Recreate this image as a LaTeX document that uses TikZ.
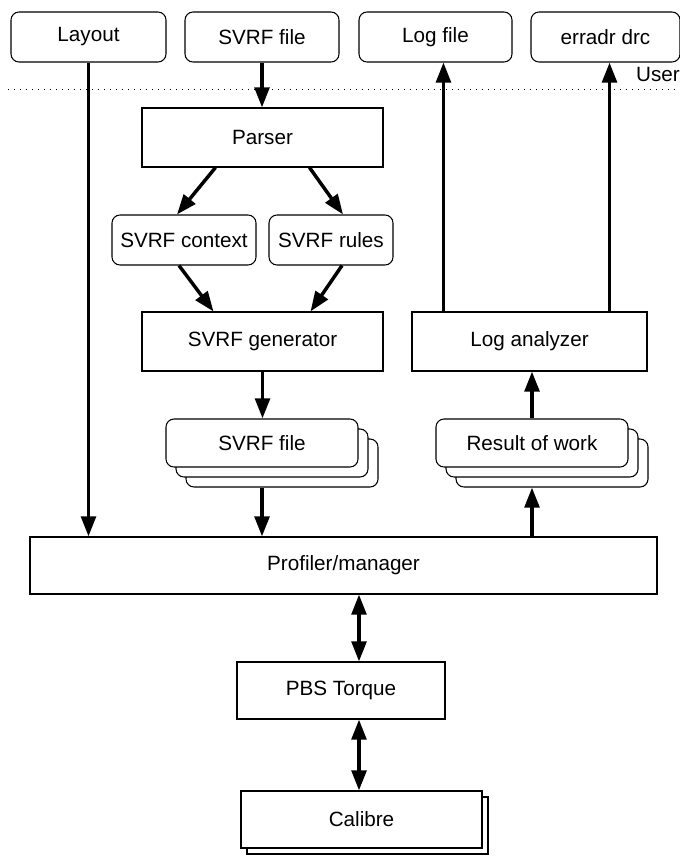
\documentclass[tikz,border=0pt]{standalone}
\usepackage{fontspec}
\setmainfont{Liberation Sans}
\usetikzlibrary{positioning,calc,arrows.meta}

\tikzset{
  box/.style={draw, line width=0.8pt, fill=white, inner sep=0pt,
    font=\fontsize{15.5}{18}\selectfont},
  rbox/.style={box, rounded corners=6pt},
  sheet/.style={rbox, minimum width=144pt, minimum height=36pt},
  flow/.style={line width=2.6pt, -{Triangle[length=15pt,width=11pt]}},
  bothflow/.style={line width=2.6pt,
    {Triangle[length=15pt,width=11pt]}-{Triangle[length=15pt,width=11pt]}},
}

\begin{document}
\begin{tikzpicture}[x=0.75pt,y=-0.75pt]
  \useasboundingbox (0,0) rectangle (680,856);

  % user level
  \node[rbox, minimum width=116.25pt, minimum height=37.5pt] (layout) at (88.5,37) {Layout};
  \node[rbox, minimum width=115.5pt, minimum height=37.5pt] (svrfin) at (262,37) {SVRF file};
  \node[rbox, minimum width=114.75pt, minimum height=37.5pt] (logfile) at (435.5,37) {Log file};
  \node[rbox, minimum width=111.75pt, minimum height=37.5pt] (erradr) at (605.5,37) {erradr drc};

  \draw[line width=0.75pt, dash pattern=on 0.75pt off 3.75pt] (8,89) -- (680,89);
  \node[anchor=base east, inner sep=0pt, font=\fontsize{15.5}{18}\selectfont] (user) at (680,82) {User};

  % rule deck side
  \node[box, minimum width=180.75pt, minimum height=44.25pt] (parser) at (262.5,137.5) {Parser};
  \node[rbox, minimum width=108pt, minimum height=37.5pt] (context) at (184,240) {SVRF context};
  \node[rbox, minimum width=93pt, minimum height=37.5pt] (rules) at (331,240) {SVRF rules};
  \node[box, minimum width=180.75pt, minimum height=44.25pt] (generator) at (262.5,341.5) {SVRF generator};

  \node[sheet] (svrfback2) at (282,463) {};
  \node[sheet] (svrfback1) at (272,453) {};
  \node[sheet] (svrfout) at (262,443) {SVRF file};

  % log side
  \node[box, minimum width=176.25pt, minimum height=44.25pt] (analyzer) at (529.5,341.5) {Log analyzer};

  \node[sheet] (resultback2) at (552,463) {};
  \node[sheet] (resultback1) at (542,453) {};
  \node[sheet] (result) at (532,443) {Result of work};

  % execution
  \node[box, minimum width=470.25pt, minimum height=42.75pt] (profiler) at (343.5,565.5) {Profiler/manager};
  \node[box, minimum width=156pt, minimum height=42.75pt] (pbs) at (341,690.5) {PBS Torque};
  \node[box, minimum width=180.75pt, minimum height=42.75pt] (calibreback) at (367.5,825.5) {};
  \node[box, minimum width=180.75pt, minimum height=42.75pt] (calibre) at (361.5,819.5) {Calibre};

  % arrows
  \draw[flow] (layout.south) -- (layout.south |- profiler.north);
  \draw[flow] (svrfin.south) -- (svrfin.south |- parser.north);
  \draw[flow] ($(parser.south)+(-47,0)$) -- ($(context.north)+(-7,0)$);
  \draw[flow] ($(parser.south)+(47,0)$) -- ($(rules.north)+(12,0)$);
  \draw[flow] ($(context.south)+(-5,0)$) -- ($(generator.north)+(-49,0)$);
  \draw[flow] ($(rules.south)+(11,0)$) -- ($(generator.north)+(48,0)$);
  \draw[flow] (generator.south) -- (generator.south |- svrfout.north);
  \draw[flow] (svrfout.south |- svrfback2.south) -- (svrfout.south |- profiler.north);

  \draw[flow] (result.south |- profiler.north) -- (result.south |- resultback2.south);
  \draw[flow] (result.north) -- (result.north |- analyzer.south);
  \coordinate (logup) at ($(analyzer.north west)+(32,0)$);
  \coordinate (errup) at ($(analyzer.north east)+(-38,0)$);
  \draw[flow] (logup) -- (logup |- logfile.south);
  \draw[flow] (errup) -- (errup |- erradr.south);

  \coordinate (bus) at ($(pbs.north)+(18,0)$);
  \draw[bothflow] (bus |- profiler.south) -- (bus);
  \draw[bothflow] (bus |- pbs.south) -- (bus |- calibre.north);
\end{tikzpicture}
\end{document}
